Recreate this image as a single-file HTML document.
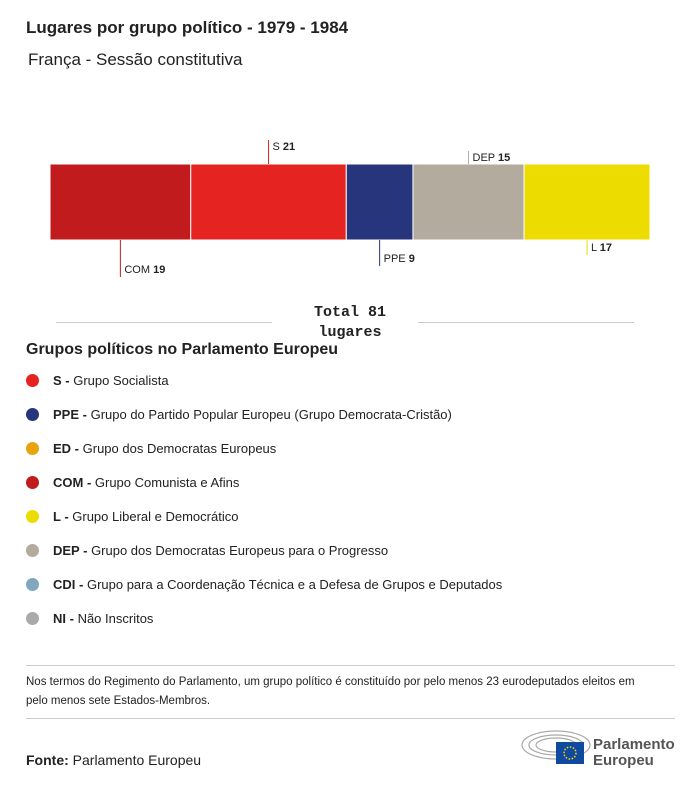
<!DOCTYPE html>
<html><head><meta charset="utf-8">
<style>
body{margin:0;width:700px;height:786px;background:#fff;font-family:"Liberation Sans",sans-serif;color:#222;position:relative;overflow:hidden}
.t{position:absolute;left:26px;top:18px;font-size:17px;font-weight:bold}
.st{position:absolute;left:28px;top:50px;font-size:17px}
.lg{position:absolute;left:26px;top:341px;font-size:16px;font-weight:bold}
.it{position:absolute;left:26px;font-size:13px;height:16px;line-height:16px}
.it i{display:inline-block;width:13px;height:13px;border-radius:50%;vertical-align:-2px;margin-right:14px}
.hr{position:absolute;left:26px;width:649px;height:1px;background:#ccc}
.note{position:absolute;left:26px;top:673px;font-size:11.5px;line-height:19px;width:620px}
.src{position:absolute;left:26px;top:752px;font-size:14px}
</style></head><body>
<div class="t">Lugares por grupo político - 1979 - 1984</div>
<div class="st">França - Sessão constitutiva</div>
<svg id="c" width="700" height="340" style="position:absolute;left:0;top:0"></svg>
<div class="lg">Grupos políticos no Parlamento Europeu</div>
<div class="it" style="top:373px"><i style="background:#e52421"></i><b>S - </b>Grupo Socialista</div>
<div class="it" style="top:407px"><i style="background:#27357d"></i><b>PPE - </b>Grupo do Partido Popular Europeu (Grupo Democrata-Cristão)</div>
<div class="it" style="top:441px"><i style="background:#e8a40c"></i><b>ED - </b>Grupo dos Democratas Europeus</div>
<div class="it" style="top:475px"><i style="background:#c11b1d"></i><b>COM - </b>Grupo Comunista e Afins</div>
<div class="it" style="top:509px"><i style="background:#ecdc00"></i><b>L - </b>Grupo Liberal e Democrático</div>
<div class="it" style="top:543px"><i style="background:#b3ab9d"></i><b>DEP - </b>Grupo dos Democratas Europeus para o Progresso</div>
<div class="it" style="top:577px"><i style="background:#80a7bd"></i><b>CDI - </b>Grupo para a Coordenação Técnica e a Defesa de Grupos e Deputados</div>
<div class="it" style="top:611px"><i style="background:#aaa"></i><b>NI - </b>Não Inscritos</div>
<div class="hr" style="top:665px"></div>
<div class="note">Nos termos do Regimento do Parlamento, um grupo político é constituído por pelo menos 23 eurodeputados eleitos em pelo menos sete Estados-Membros.</div>
<div class="hr" style="top:718px"></div>
<div class="src"><b>Fonte:</b> Parlamento Europeu</div>
<div style="position:absolute;left:520px;top:728px">
<svg width="160" height="40">
<g fill="none" stroke="#aaa" stroke-width="1.2"><ellipse cx="36" cy="17" rx="34" ry="14"/><ellipse cx="36" cy="17" rx="27" ry="10"/><ellipse cx="36" cy="17" rx="20" ry="7"/></g>
<rect x="36" y="14" width="28" height="22" fill="#0f4aa0"/>
<circle cx="50" cy="25" r="6" fill="none" stroke="#ffd500" stroke-width="1.5" stroke-dasharray="1.5 1.6"/>
<text x="73" y="21" font-size="15" font-weight="bold" fill="#555" font-family="Liberation Sans">Parlamento</text>
<text x="73" y="37" font-size="15" font-weight="bold" fill="#555" font-family="Liberation Sans">Europeu</text>
</svg></div>
<script>
const parties=["COM","S","PPE","DEP","L"];
const seats=[19,21,9,15,17];
const colors=["#c11b1d","#e52421","#27357d","#b3ab9d","#ecdc00"];
const total=seats.reduce((a,b)=>a+b,0);
const svg=document.getElementById('c'),NS="http://www.w3.org/2000/svg";
const X0=50,W=600,Y0=164,H=76;
const x=v=>X0+v/total*W;
const lay=[{up:false,len:37},{up:true,len:24},{up:false,len:26},{up:true,len:13},{up:false,len:15}];
let acc=0;
seats.forEach((s,i)=>{
 const r=document.createElementNS(NS,'rect');
 
 
 r.setAttribute('x',x(acc));r.setAttribute('y',Y0);r.setAttribute('width',x(acc+s)-x(acc));r.setAttribute('height',H);
 r.setAttribute('fill',colors[i]);r.setAttribute('stroke','#fff');r.setAttribute('stroke-width','1');
 svg.appendChild(r);
 const mx=(x(acc)+x(acc+s))/2,L=lay[i];
 const ln=document.createElementNS(NS,'line');
 
 
 ln.setAttribute('x1',mx);ln.setAttribute('x2',mx);
 ln.setAttribute('y1',L.up?Y0-L.len:Y0+H);ln.setAttribute('y2',L.up?Y0:Y0+H+L.len);
 ln.setAttribute('stroke',colors[i]);svg.appendChild(ln);
 const t=document.createElementNS(NS,'text');
 
 
 t.setAttribute('x',mx+4);t.setAttribute('y',L.up?Y0-L.len+10:Y0+H+L.len-4);
 t.setAttribute('font-size','11');t.setAttribute('fill','#222');
 t.innerHTML=parties[i]+' <tspan font-weight="bold">'+s+'</tspan>';
 svg.appendChild(t);
 acc+=s;
});
[[56,272],[418,634]].forEach(p=>{const l=document.createElementNS(NS,'line');
 
 
 l.setAttribute('x1',p[0]);l.setAttribute('x2',p[1]);l.setAttribute('y1',322.5);l.setAttribute('y2',322.5);l.setAttribute('stroke','#ccc');svg.appendChild(l);});
['Total '+total,'lugares'].forEach((s,k)=>{const t=document.createElementNS(NS,'text');
 
 
 t.setAttribute('x',350);t.setAttribute('y',316+k*20);t.setAttribute('text-anchor','middle');
 t.setAttribute('font-family','Liberation Mono, monospace');t.setAttribute('font-weight','bold');t.setAttribute('font-size','15');t.setAttribute('fill','#222');
 t.textContent=s;svg.appendChild(t);});
</script>
</body></html>
